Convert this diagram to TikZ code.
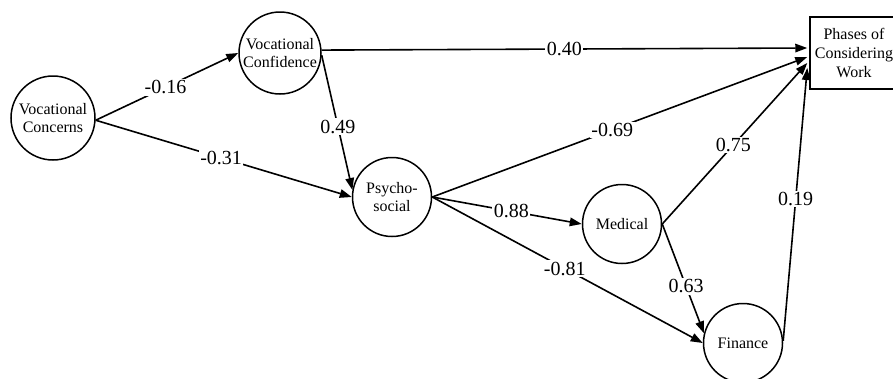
\documentclass[tikz,border=0pt]{standalone}
\usepackage{fontspec}
\setmainfont{Liberation Serif}
\usetikzlibrary{arrows.meta}
\begin{document}
\begin{tikzpicture}[x=1pt,y=-1pt,
  var/.style={draw,line width=1.5pt,circle,inner sep=0pt,align=center,
    font=\fontsize{16}{18}\selectfont},
  outbox/.style={draw,line width=1.5pt,rectangle,inner sep=0pt,align=center,
    minimum width=88pt,minimum height=72pt,font=\fontsize{16}{19}\selectfont},
  path/.style={line width=1.6pt,-{Triangle[length=12pt,width=8.5pt]}},
  coef/.style={fill=white,inner sep=1.5pt,font=\fontsize{20}{22}\selectfont}]
\useasboundingbox (0,0) rectangle (893,378);
\node[var,minimum size=84pt] (vconc) at (53,118) {Vocational\\Concerns};
\node[var,minimum size=82pt] (vconf) at (280,53) {Vocational\\Confidence};
\node[var,minimum size=79pt] (psy) at (392,197) {Psycho-\\social};
\node[var,minimum size=79pt] (med) at (622,224) {Medical};
\node[var,minimum size=79pt] (fin) at (743,343) {Finance};
\node[outbox] (ph) at (854,53) {Phases of\\Considering\\Work};

\draw[path] (vconc.-3) -- node[coef,pos=0.49] {-0.16} (vconf.west);
\draw[path] (vconc.-3) -- node[coef,pos=0.49] {-0.31} (psy.west);
\draw[path] (vconf.4) -- node[coef,pos=0.50] {0.40} ([yshift=5pt,xshift=-2pt]ph.west);
\draw[path] (vconf.-3) -- node[coef,pos=0.53] {0.49} (psy.170);
\draw[path] (psy.east) -- node[coef,pos=0.48] {-0.69} ([yshift=-4pt,xshift=-2pt]ph.west);
\draw[path] (psy.east) -- node[coef,pos=0.53] {0.88} (med.west);
\draw[path] (psy.east) -- node[coef,pos=0.49] {-0.81} (fin.west);
\draw[path] (med.east) -- node[coef,pos=0.49] {0.75} ([yshift=-10pt,xshift=-2pt]ph.west);
\draw[path] (med.east) -- node[coef,pos=0.57] {0.63} (fin.166);
\draw[path] (fin.3) -- node[coef,pos=0.52] {0.19} ([yshift=-15pt,xshift=-2pt]ph.west);
\end{tikzpicture}
\end{document}
